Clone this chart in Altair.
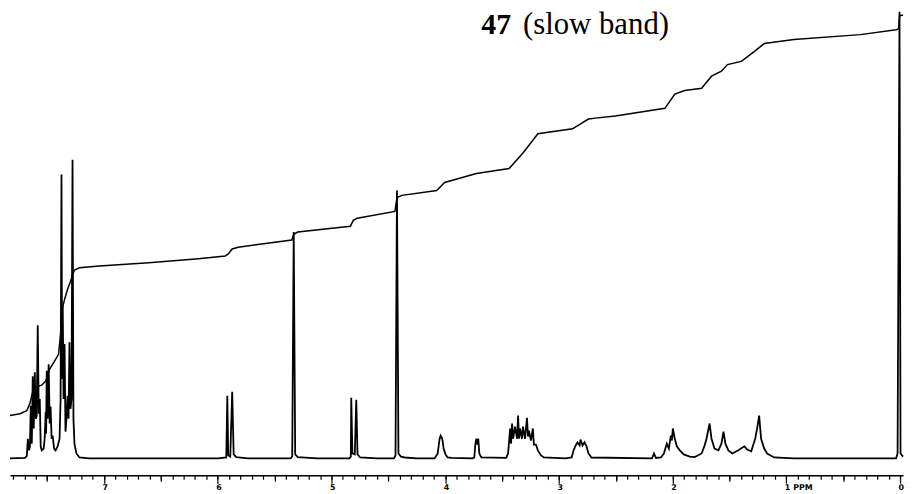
import altair as alt
import pandas as pd

# ---- spectrum trace (chemical shift ppm, relative intensity) ----
spec_ppm = [
    7.827, 7.696, 7.679, 7.670, 7.661, 7.652, 7.644, 7.635, 7.627, 7.618, 7.609, 7.600,
    7.592, 7.583, 7.574, 7.565, 7.557, 7.548, 7.531, 7.522, 7.513, 7.509, 7.504, 7.496,
    7.487, 7.478, 7.470, 7.461, 7.452, 7.439, 7.426, 7.408, 7.391, 7.382, 7.374, 7.369,
    7.363, 7.356, 7.347, 7.339, 7.330, 7.321, 7.312, 7.304, 7.295, 7.286, 7.277, 7.269,
    7.260, 7.243, 7.216, 7.129,
    5.995, 5.925, 5.916, 5.908, 5.890, 5.873, 5.860, 5.838, 5.733,
    5.358, 5.345, 5.332, 5.319, 5.297, 5.122,
    4.843, 4.830, 4.826, 4.816, 4.795, 4.782, 4.771, 4.747, 4.599,
    4.450, 4.437, 4.424, 4.411, 4.389, 4.354, 4.250,
    4.093, 4.066, 4.049, 4.040, 4.031, 4.023, 4.014, 3.997, 3.979, 3.944,
    3.761, 3.744, 3.735, 3.726, 3.717, 3.709, 3.700, 3.682,
    3.464, 3.447, 3.429, 3.421, 3.412, 3.403, 3.386, 3.368, 3.359, 3.351, 3.342, 3.325,
    3.316, 3.298, 3.281, 3.272, 3.264, 3.246, 3.229, 3.220, 3.202, 3.185, 3.159, 3.133,
    2.941, 2.888, 2.871, 2.853, 2.836, 2.818, 2.810, 2.792, 2.775, 2.757, 2.740, 2.714,
    2.181, 2.164, 2.147,
    2.103, 2.077, 2.051, 2.033, 2.016, 2.007, 1.998, 1.989, 1.981, 1.963, 1.937, 1.902,
    1.850, 1.806,
    1.745, 1.719, 1.702, 1.684, 1.675, 1.658, 1.632, 1.597, 1.571, 1.553, 1.536, 1.510,
    1.475, 1.422, 1.370, 1.344, 1.309, 1.274, 1.257, 1.239, 1.230, 1.222, 1.195, 1.169,
    1.108, 0.934,
    0.035, 0.022, 0.005, -0.004, -0.026,
]
spec_int = [
    0.0, 0.1, 0.5, 4.4, 1.8, 2.5, 11.8, 3.3, 18.4, 6.7, 19.3, 8.9,
    9.5, 29.8, 10.0, 13.3, 2.7, 1.8, 2.2, 4.4, 10.4, 5.5, 19.6, 8.9,
    21.1, 7.8, 11.6, 4.4, 5.1, 2.2, 1.8, 2.7, 4.4, 13.3, 63.6, 17.8,
    34.0, 13.3, 25.6, 6.0, 9.0, 14.0, 8.9, 26.0, 11.1, 13.3, 66.9, 8.9,
    3.3, 1.1, 0.2, 0.0,
    0.0, 0.2, 14.0, 0.7, 0.4, 14.9, 0.9, 0.3, 0.0,
    0.0, 0.5, 50.7, 0.9, 0.3, 0.0,
    0.0, 0.4, 13.6, 1.1, 0.9, 13.1, 0.9, 0.2, 0.0,
    0.0, 0.7, 60.0, 1.1, 0.4, 0.2, 0.0,
    0.0, 1.1, 4.4, 5.1, 4.7, 4.0, 2.2, 0.9, 0.2, 0.1,
    0.0, 0.2, 3.1, 4.4, 3.1, 4.4, 1.1, 0.2,
    0.1, 1.1, 6.7, 3.3, 7.8, 4.4, 7.1, 4.4, 9.6, 4.4, 6.7, 4.4,
    7.1, 4.4, 9.1, 4.9, 6.2, 4.0, 6.7, 3.1, 3.1, 1.8, 0.7, 0.2,
    0.0, 0.2, 1.8, 2.9, 3.6, 2.9, 4.2, 2.9, 3.6, 2.7, 1.1, 0.2,
    0.0, 1.1, 0.1,
    0.2, 1.1, 3.3, 2.2, 5.1, 4.0, 6.7, 5.5, 4.4, 2.7, 1.8, 0.9,
    0.4, 0.3,
    1.1, 2.9, 4.4, 6.7, 7.8, 4.4, 2.2, 1.8, 3.3, 6.0, 3.3, 1.8,
    1.1, 1.8, 2.7, 2.0, 1.6, 4.4, 6.7, 9.6, 6.7, 4.4, 2.2, 1.1,
    0.2, 0.0,
    0.0, 1.1, 100.0, 1.1, 0.4,
]

# ---- integral trace ----
integ_ppm = [
    7.827, 7.740, 7.679, 7.653, 7.627, 7.600, 7.548, 7.513, 7.478, 7.435, 7.400, 7.382,
    7.374, 7.347, 7.321, 7.295, 7.277, 7.260, 7.216, 7.042, 6.606, 6.169, 5.934, 5.908,
    5.873, 5.820, 5.349, 5.332, 5.297, 4.834, 4.808, 4.773, 4.442, 4.424, 4.380, 4.075,
    4.005, 3.726, 3.438, 3.316, 3.185, 2.880, 2.740, 2.679, 2.504, 2.068, 1.981, 1.894,
    1.745, 1.658, 1.571, 1.518, 1.396, 1.283, 1.195, 0.934, 0.349, 0.035, 0.013, 0.005,
    -0.026,
]
integ_int = [
    9.6, 10.0, 10.7, 12.2, 14.9, 16.0, 16.4, 17.3, 20.0, 21.8, 23.3, 27.8,
    32.7, 35.6, 37.8, 39.6, 41.1, 42.2, 42.7, 43.1, 43.8, 44.7, 45.3, 45.8,
    46.9, 47.3, 48.9, 50.2, 50.7, 52.0, 53.3, 53.8, 55.3, 58.4, 58.9, 60.0,
    61.8, 63.8, 64.9, 68.4, 72.7, 73.8, 76.0, 76.2, 76.7, 78.4, 81.6, 82.4,
    82.9, 85.6, 86.7, 88.2, 88.9, 91.1, 92.9, 93.8, 94.9, 96.0, 96.2, 99.1,
    99.3,
]

# ---- axis ticks ----
ticks_minor = [round(i * 0.1, 1) for i in range(0, 79)]
ticks_half = [0.5, 1.5, 2.5, 3.5, 4.5, 5.5, 6.5, 7.5]
ticks_major = [0, 1, 2, 3, 4, 5, 6, 7]

# ---- title annotation ----
title_parts = ["47", "(slow band)"]
title_ppm = [3.682, 3.316]
title_int = [95.1, 95.1]

spec = pd.DataFrame({"ppm": spec_ppm, "intensity": spec_int, "idx": list(range(len(spec_ppm)))})
integ = pd.DataFrame({"ppm": integ_ppm, "intensity": integ_int, "idx": list(range(len(integ_ppm)))})
titles = pd.DataFrame({"text": title_parts, "ppm": title_ppm, "intensity": title_int})

xscale = alt.Scale(domain=[-0.026, 7.827], reverse=True, nice=False, zero=False)
yscale = alt.Scale(domain=[-3.778, 100.444], nice=False, zero=False)

common_axis = dict(orient="bottom", grid=False, title=None, tickColor="black", tickWidth=1.2)

spectrum = alt.Chart(spec).mark_line(color="black", strokeWidth=1.8).encode(
    x=alt.X("ppm:Q", scale=xscale,
            axis=alt.Axis(values=ticks_minor, labels=False, tickSize=4, domain=True,
                          domainColor="black", domainWidth=1.5, **common_axis)),
    y=alt.Y("intensity:Q", scale=yscale, axis=None),
    order="idx:Q",
)

integral = alt.Chart(integ).mark_line(color="black", strokeWidth=1.5).encode(
    x=alt.X("ppm:Q", scale=xscale,
            axis=alt.Axis(values=ticks_half, labels=False, tickSize=6, domain=False, **common_axis)),
    y=alt.Y("intensity:Q", scale=yscale, axis=None),
    order="idx:Q",
)

title_bold = alt.Chart(titles.iloc[[0]]).mark_text(
    align="left", baseline="alphabetic", font="Liberation Serif", fontSize=30,
    fontWeight="bold", color="black"
).encode(
    x=alt.X("ppm:Q", scale=xscale,
            axis=alt.Axis(values=ticks_major, labels=True, tickSize=8, domain=False,
                          format="d", labelExpr="datum.value == 1 ? '1 PPM' : datum.label",
                          labelAlign="left", labelOffset=-2, labelPadding=0,
                          labelFont="DejaVu Sans", labelFontSize=8, labelFontWeight="bold",
                          labelColor="black", **common_axis)),
    y=alt.Y("intensity:Q", scale=yscale, axis=None),
    text="text:N",
)

title_rest = alt.Chart(titles.iloc[[1]]).mark_text(
    align="left", baseline="alphabetic", font="Liberation Serif", fontSize=31,
    color="black"
).encode(
    x=alt.X("ppm:Q", scale=xscale, axis=None),
    y=alt.Y("intensity:Q", scale=yscale, axis=None),
    text="text:N",
)

chart = alt.layer(spectrum, integral, title_bold, title_rest).resolve_axis(
    x="independent"
).properties(
    width=900, height=469,
    padding={"left": 2, "top": 0, "right": 4, "bottom": 17},
    autosize=alt.AutoSizeParams(type="none"),
    background="white",
).configure_view(stroke=None)

chart.save("out.html", embed_options={"renderer": "svg", "actions": False})
